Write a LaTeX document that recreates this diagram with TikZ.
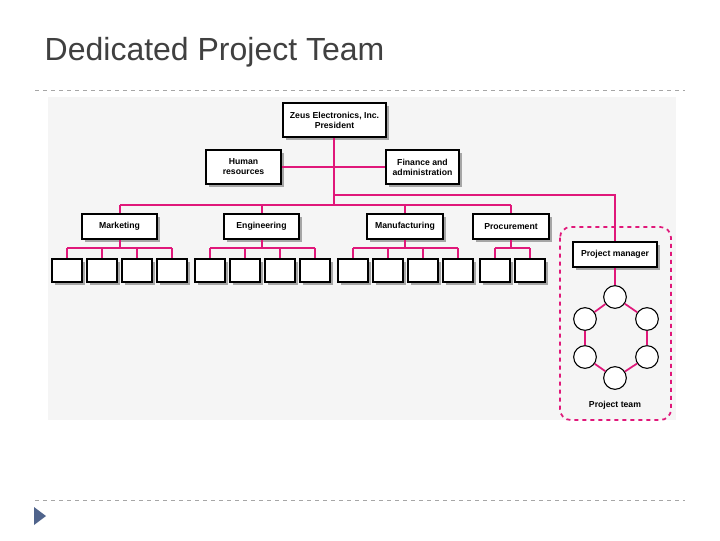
\documentclass[tikz,border=0pt]{standalone}
\usepackage{fontspec}
\setmainfont{Liberation Sans}
\begin{document}
\begin{tikzpicture}[x=0.75pt,y=-0.75pt,
  mag/.style={draw=pk,line width=1.3pt},
  box/.style={draw=black,fill=white,line width=0.8pt,minimum height=25*0.75pt,inner sep=0pt,font=\fontsize{6.5}{7.5}\selectfont\bfseries,align=center,
    append after command={}},
  sh/.style={fill=black!35},
  circ/.style={circle,draw=black,fill=white,line width=0.8pt,minimum size=17pt,inner sep=0pt}]
\definecolor{pk}{RGB}{224,24,122}
\definecolor{tri}{RGB}{80,100,140}
\useasboundingbox (0,0) rectangle (720,540);
\fill[white] (0,0) rectangle (720,540);
\node[anchor=west,font=\fontsize{24}{28}\selectfont,text=black!75] (title) at (40,52) {Dedicated Project Team};
\draw[black!35,dashed] (35,90) -- (685,90);
\draw[black!35,dashed] (35,500) -- (685,500);
\fill[tri] (34,507) -- (46,516) -- (34,525) -- cycle;
\fill[black!4] (48,97) rectangle (676,420);
% shadows
\foreach \x/\y/\w/\h in {283/103/103/34,206/150/75/34,386/150/73/34,82/214/75/25,224/214/75/25,367/214/76/25,473/214/76/25,573/242/84/25}
  \fill[black!35] (\x+3,\y+3) rectangle (\x+\w+3,\y+\h+3);
\foreach \c in {67,102,137,172,210,245,280,315,353,388,423,458,495,530}
  \fill[black!35] (\c-15+3,262) rectangle (\c+15+3,285);
% connectors
\coordinate (j1) at (334,167);
\coordinate (j2) at (334,195);
\coordinate (j3) at (334,205);
\coordinate (pmtop) at (615,195);
\draw[mag] (334,137) -- (j3);
\draw[mag] (j2) -- (pmtop) -- (615,242);
\draw[mag] (120,205) -- (511,205);
\foreach \c in {120,262,405,511} \draw[mag] (\c,205) -- (\c,214);
\draw[mag] (281,167) -- (386,167);
\foreach \p/\a/\b in {120/67/172,262/210/315,405/353/458,511/495/530}{
  \draw[mag] (\p,239) -- (\p,248);
  \draw[mag] (\a,248) -- (\b,248);
}
\foreach \c in {67,102,137,172,210,245,280,315,353,388,423,458,495,530}
  \draw[mag] (\c,248) -- (\c,259);
% boxes
\node[box,minimum width=103*0.75pt,minimum height=34*0.75pt] (pres) at (334.5,120) {Zeus Electronics, Inc.\\President};
\node[box,minimum width=75*0.75pt,minimum height=34*0.75pt] (hr) at (243.5,167) {Human\\resources};
\node[box,minimum width=73*0.75pt,minimum height=34*0.75pt] (fin) at (422.5,167) {Finance and\\administration};
\node[box,minimum width=75*0.75pt] (mkt) at (119.5,226.5) {Marketing};
\node[box,minimum width=75*0.75pt] (eng) at (261.5,226.5) {Engineering};
\node[box,minimum width=76*0.75pt] (man) at (405,226.5) {Manufacturing};
\node[box,minimum width=76*0.75pt] (pro) at (511,226.5) {Procurement};
\foreach \c [count=\i] in {67,102,137,172,210,245,280,315,353,388,423,458,495,530}
  \node[box,minimum width=30*0.75pt,minimum height=23*0.75pt] (s\i) at (\c,270.5) {};
% project team
\draw[pk,dashed,line width=1.3pt,rounded corners=8pt] (560,227) rectangle (671,420);
\node[box,minimum width=84*0.75pt] (pm) at (615,254.5) {Project manager};
\node[circ] (c1) at (615,297) {};
\node[circ] (c2) at (647,319) {};
\node[circ] (c3) at (647,357) {};
\node[circ] (c4) at (615,378) {};
\node[circ] (c5) at (585,357) {};
\node[circ] (c6) at (585,319) {};
\begin{scope}[on background layer/.style={}]
\end{scope}
\draw[mag] (pm) -- (c1);
\draw[mag] (c1) -- (c2) (c2) -- (c3) (c3) -- (c4) (c4) -- (c5) (c5) -- (c6) (c6) -- (c1);
\node[font=\fontsize{6.5}{7.5}\selectfont\bfseries] (pt) at (615,405) {Project team};
\end{tikzpicture}
\end{document}
